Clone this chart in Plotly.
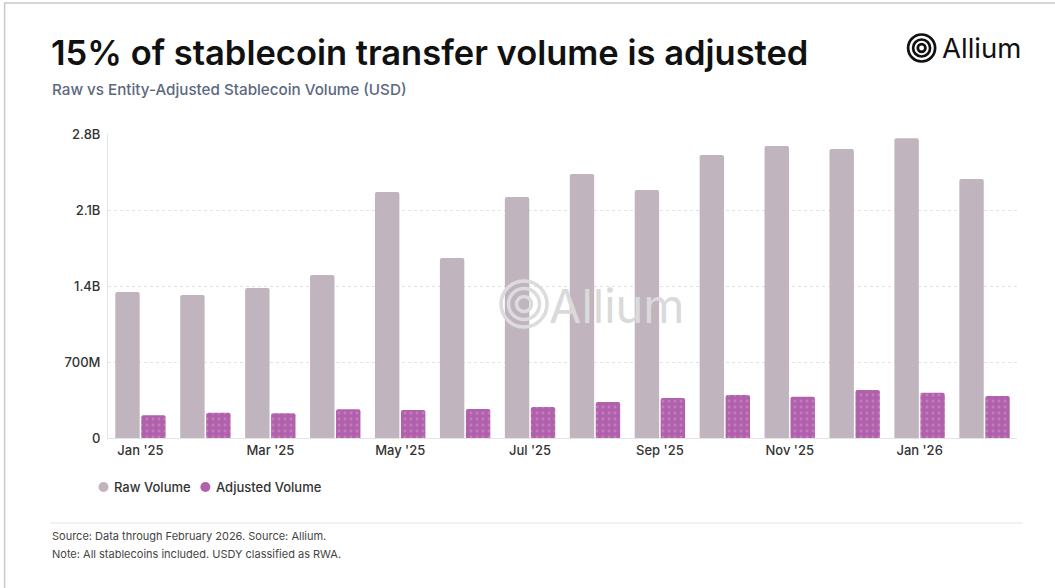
import plotly.graph_objects as go

# Monthly stablecoin transfer volume (USD)
months = ["Jan '25", "Feb '25", "Mar '25", "Apr '25", "May '25", "Jun '25", "Jul '25",
          "Aug '25", "Sep '25", "Oct '25", "Nov '25", "Dec '25", "Jan '26", "Feb '26"]
raw_volume = [1.344e9, 1.317e9, 1.381e9, 1.501e9, 2.265e9, 1.657e9, 2.219e9,
              2.431e9, 2.284e9, 2.606e9, 2.689e9, 2.661e9, 2.762e9, 2.385e9]
adjusted_volume = [0.209e9, 0.233e9, 0.227e9, 0.264e9, 0.258e9, 0.267e9, 0.285e9,
                   0.331e9, 0.368e9, 0.396e9, 0.380e9, 0.442e9, 0.417e9, 0.387e9]

tick_months = ["Jan '25", "Mar '25", "May '25", "Jul '25", "Sep '25", "Nov '25", "Jan '26"]
y_tick_vals = [0, 0.7e9, 1.4e9, 2.1e9, 2.8e9]
y_tick_text = ["0", "700M", "1.4B", "2.1B", "2.8B"]
series_names = ["Raw Volume", "Adjusted Volume"]

RAW_COLOR = "#C0B4BF"
ADJ_COLOR = "#B161AB"
ADJ_DOT = "#D597D0"
FONT = "Inter"

W, H = 1055, 588
L, R, T, B = 107.5, 1017.5, 134, 438  # plot area in pixels


def px(x):
    return (x - L) / (R - L)


def py(y):
    return (B - y) / (B - T)


fig = go.Figure()
fig.add_trace(go.Bar(
    x=months, y=raw_volume, name=series_names[0],
    marker=dict(color=RAW_COLOR, line=dict(width=0)),
    showlegend=False, hoverinfo="x+y",
))
fig.add_trace(go.Bar(
    x=months, y=adjusted_volume, name=series_names[1],
    marker=dict(color=ADJ_COLOR, line=dict(width=0),
                pattern=dict(shape=".", fgcolor=ADJ_DOT, bgcolor=ADJ_COLOR, size=6, solidity=0.18)),
    showlegend=False, hoverinfo="x+y",
))

annotations = [
    dict(text="15% of stablecoin transfer volume is adjusted", x=px(48), y=py(52),
         xanchor="left", yanchor="middle",
         font=dict(family=FONT, size=34.5, color="#111111", weight=600)),
    dict(text="Raw vs Entity-Adjusted Stablecoin Volume (USD)", x=px(49), y=py(89),
         xanchor="left", yanchor="middle",
         font=dict(family=FONT, size=15.2, color="#5B6880", weight=500)),
    dict(text="Allium", x=px(940), y=py(48), xanchor="left", yanchor="middle",
         font=dict(family=FONT, size=27.5, color="#111111", weight=400)),
    dict(text="Allium", x=px(547), y=py(305), xanchor="left", yanchor="middle",
         font=dict(family=FONT, size=47, color="#DADADA", weight=400)),
    dict(text="Source: Data through February 2026. Source: Allium.", x=px(49), y=py(536),
         xanchor="left", yanchor="middle", font=dict(family=FONT, size=11, color="#444444")),
    dict(text="Note: All stablecoins included. USDY classified as RWA.", x=px(49), y=py(554),
         xanchor="left", yanchor="middle", font=dict(family=FONT, size=11, color="#444444")),
]

shapes = [
    # card border (left and top edges visible)
    dict(type="rect", xref="paper", yref="paper", x0=px(4), x1=px(1070), y0=py(3), y1=py(600),
         line=dict(color="#C8C8C8", width=1.5), layer="below"),
    # footer separator
    dict(type="line", xref="paper", yref="paper", x0=px(50), x1=px(1023), y0=py(523), y1=py(523),
         line=dict(color="#ECECEC", width=1.5)),
]

# legend: round swatch + label for each series
for name, color, sx in zip(series_names, [RAW_COLOR, ADJ_COLOR], [103, 205]):
    shapes.append(dict(type="circle", xref="paper", yref="paper", xsizemode="pixel", ysizemode="pixel",
                       xanchor=px(sx), yanchor=py(487), x0=-5, x1=5, y0=-5, y1=5,
                       fillcolor=color, line=dict(width=0)))
    annotations.append(dict(text=name, x=px(sx + 8.5), y=py(487), xanchor="left", yanchor="middle",
                            font=dict(family=FONT, size=13, color="#333333", weight=500)))

for a in annotations:
    a.update(xref="paper", yref="paper", showarrow=False)


def rings(cx, cy, radii, color, width):
    out = []
    for r in radii:
        out.append(dict(type="circle", xref="paper", yref="paper", xsizemode="pixel", ysizemode="pixel",
                        xanchor=px(cx), yanchor=py(cy), x0=-r, x1=r, y0=-r, y1=r,
                        line=dict(color=color, width=width)))
    return out


shapes += rings(922, 48, [13.5, 8.5, 3.8], "#111111", 2.7)
shapes += rings(524, 304, [23, 15.5, 7.5], "#DCDCDC", 3.6)

fig.update_layout(
    width=W, height=H,
    margin=dict(l=L, r=W - R, t=T, b=H - B, pad=0),
    paper_bgcolor="white", plot_bgcolor="white",
    barmode="group", bargap=0.2, bargroupgap=0.06, barcornerradius=2,
    font=dict(family=FONT, color="#333333"),
    showlegend=False,
    xaxis=dict(type="category", categoryorder="array", categoryarray=months,
               tickmode="array", tickvals=tick_months, ticktext=tick_months,
               showgrid=False, showline=True, linecolor="#E4E4E4", linewidth=1,
               ticks="", tickfont=dict(family=FONT, size=13, color="#333333", weight=500),
               zeroline=False, fixedrange=True),
    yaxis=dict(range=[0, 2.8e9], tickmode="array", tickvals=y_tick_vals, ticktext=y_tick_text,
               showgrid=True, gridcolor="#E2E2E2", griddash="dot", gridwidth=1,
               showline=True, linecolor="#E4E4E4", linewidth=1, zeroline=False,
               ticks="", ticklabelstandoff=4,
               tickfont=dict(family=FONT, size=13, color="#333333", weight=500),
               fixedrange=True),
    annotations=annotations, shapes=shapes,
)

fig.write_html("out.html")
